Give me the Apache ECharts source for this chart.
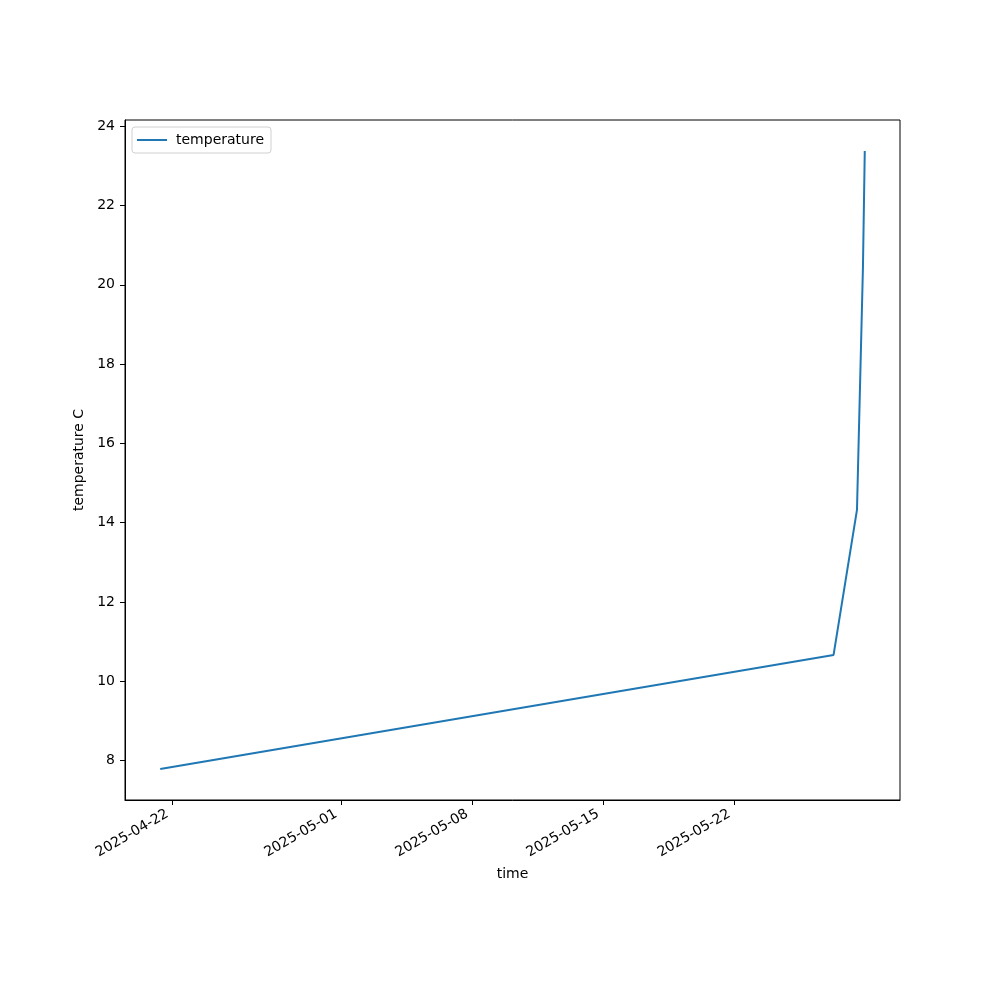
<!DOCTYPE html>
<html>
<head>
<meta charset="utf-8">
<script src="https://cdn.jsdelivr.net/npm/echarts@6/dist/echarts.min.js"></script>
<style>html,body{margin:0;padding:0;background:#fff}#c{width:1000px;height:1000px}</style>
</head>
<body>
<div id="c"></div>
<script>
// Data
var times = ['2025-04-21T08:00', '2025-05-27T07:00', '2025-05-28T13:00', '2025-05-28T20:40', '2025-05-28T23:00'];
var temperature = [7.78, 10.66, 14.32, 20.45, 23.38];
var xTickLabels = ['2025-04-22', '2025-05-01', '2025-05-08', '2025-05-15', '2025-05-22'];
var yTickLabels = [8, 10, 12, 14, 16, 18, 20, 22, 24];

function parseUTC(s) {
  var p = s.split(/[-T:]/).map(Number);
  return Date.UTC(p[0], p[1] - 1, p[2], p[3] || 0, p[4] || 0);
}
function fmt(v) {
  var d = new Date(v);
  var pad = function (n) { return (n < 10 ? '0' : '') + n; };
  return d.getUTCFullYear() + '-' + pad(d.getUTCMonth() + 1) + '-' + pad(d.getUTCDate());
}
var ts = times.map(parseUTC);
var data = ts.map(function (t, i) { return [t, temperature[i]]; });
var xTicks = xTickLabels.map(parseUTC);

var xMinD = Math.min.apply(null, ts), xMaxD = Math.max.apply(null, ts);
var yMinD = Math.min.apply(null, temperature), yMaxD = Math.max.apply(null, temperature);
var xm = (xMaxD - xMinD) * 0.05, ym = (yMaxD - yMinD) * 0.05;

var font = 'DejaVu Sans';
var chart = echarts.init(document.getElementById('c'), null, { renderer: 'canvas' });
chart.setOption({
  animation: false,
  backgroundColor: '#fff',
  grid: { left: 125, top: 120, right: 100, bottom: 200, show: true, borderColor: '#000', borderWidth: 1, backgroundColor: 'transparent' },
  legend: {
    left: 132, top: 127,
    orient: 'vertical',
    backgroundColor: '#fff',
    borderColor: '#d0d0d0', borderWidth: 1, borderRadius: 3,
    padding: [6, 7, 6, 5],
    itemWidth: 30, itemHeight: 2, itemGap: 6,
    icon: 'rect',
    textStyle: { fontFamily: font, fontSize: 14, color: '#000', padding: [0, 0, 0, 4] },
    data: ['temperature']
  },
  xAxis: {
    type: 'value',
    scale: true,
    min: xMinD - xm, max: xMaxD + xm,
    name: 'time', nameLocation: 'middle', nameGap: 67,
    nameTextStyle: { fontFamily: font, fontSize: 14, color: '#000' },
    axisLine: { show: true, lineStyle: { color: '#000', width: 1 } },
    axisTick: { show: true, inside: false, length: 5, lineStyle: { color: '#000' }, customValues: xTicks },
    axisLabel: { customValues: xTicks, rotate: 30, margin: 10, padding: [0, 6, 0, 0], fontFamily: font, fontSize: 14, color: '#000', formatter: function (v) { return fmt(v); } },
    splitLine: { show: false }
  },
  yAxis: {
    type: 'value',
    min: yMinD - ym, max: yMaxD + ym,
    name: 'temperature C', nameLocation: 'middle', nameGap: 29, nameRotate: 90,
    nameTextStyle: { fontFamily: font, fontSize: 14, color: '#000' },
    axisLine: { show: true, lineStyle: { color: '#000', width: 1 } },
    axisTick: { show: true, inside: false, length: 5, lineStyle: { color: '#000' }, customValues: yTickLabels },
    axisLabel: { customValues: yTickLabels, margin: 10, fontFamily: font, fontSize: 14, color: '#000' },
    splitLine: { show: false }
  },
  series: [{
    name: 'temperature',
    type: 'line',
    data: data,
    showSymbol: false,
    symbol: 'none',
    lineStyle: { color: '#1f77b4', width: 2 },
    itemStyle: { color: '#1f77b4' }
  }]
});
</script>
</body>
</html>
